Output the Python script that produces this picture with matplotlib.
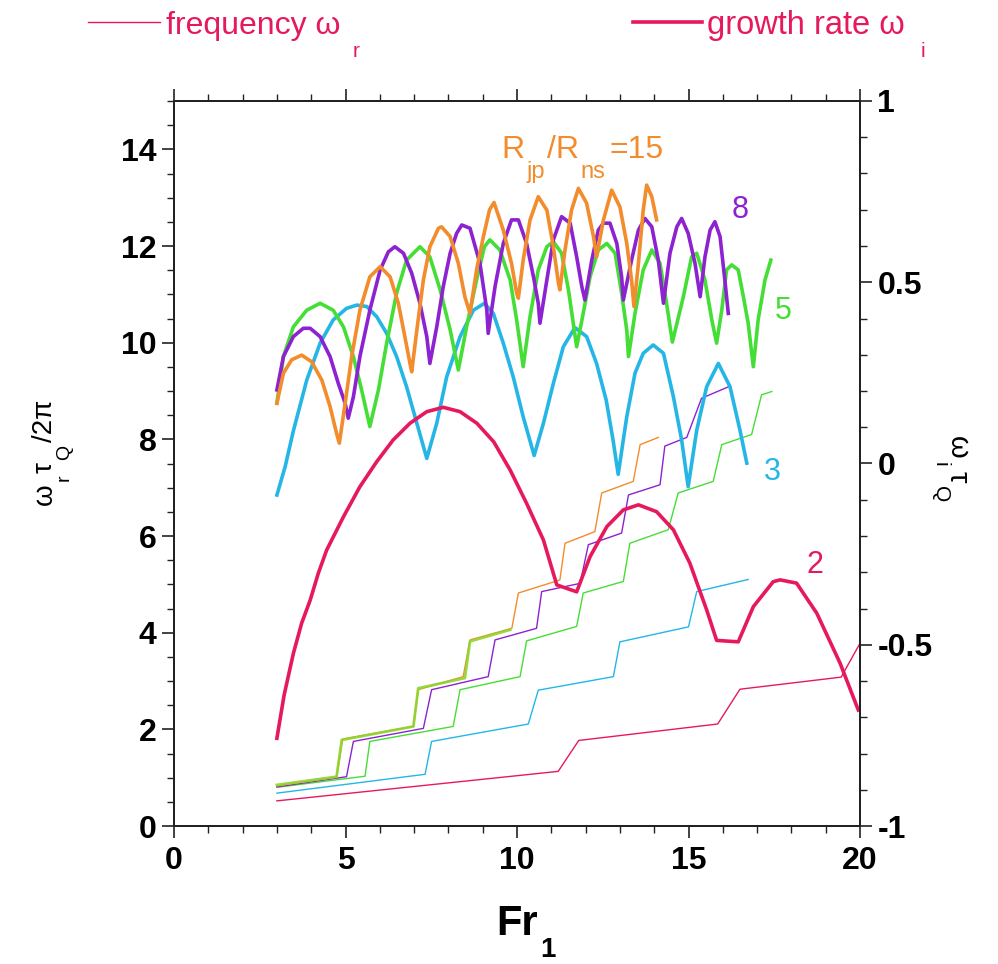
import matplotlib
matplotlib.use("Agg")
import matplotlib.pyplot as plt
from matplotlib.lines import Line2D
from matplotlib.ticker import MultipleLocator

plt.rcParams['font.family'] = ['Liberation Sans', 'DejaVu Sans']
plt.rcParams['axes.unicode_minus'] = False

# ---------------- data ----------------
# growth rate omega_i * tau_Q (right axis), one curve per R_jp/R_ns
fr_wi_2 = [3.0, 3.21, 3.48, 3.72, 3.97, 4.21, 4.45, 4.94, 5.42, 5.91, 6.39, 6.88, 7.37, 7.85,
           8.34, 8.83, 9.32, 9.80, 10.28, 10.77, 11.16, 11.74, 12.13, 12.62, 13.10, 13.54,
           14.07, 14.56, 15.04, 15.53, 15.82, 16.45, 16.89, 17.47, 17.67, 18.15, 18.74, 19.42,
           19.95]
wi_2 = [-0.758, -0.639, -0.524, -0.441, -0.377, -0.302, -0.239, -0.147, -0.064, 0.005, 0.065,
        0.111, 0.143, 0.155, 0.143, 0.111, 0.060, -0.018, -0.110, -0.211, -0.335, -0.354,
        -0.257, -0.174, -0.128, -0.114, -0.133, -0.183, -0.275, -0.404, -0.488, -0.492,
        -0.395, -0.326, -0.321, -0.330, -0.413, -0.551, -0.680]

fr_wi_3 = [3.0, 3.24, 3.48, 3.87, 4.26, 4.64, 5.03, 5.33, 5.62, 5.91, 6.20, 6.49, 6.78, 7.08,
           7.37, 7.66, 7.95, 8.34, 8.73, 9.05, 9.31, 9.60, 9.89, 10.18, 10.50, 10.77, 11.06,
           11.35, 11.69, 12.03, 12.32, 12.60, 12.80, 12.95, 13.20, 13.44, 13.68, 13.97, 14.27,
           14.56, 14.80, 14.99, 15.24, 15.53, 15.87, 16.21, 16.50, 16.70]
wi_3 = [-0.087, -0.009, 0.090, 0.230, 0.332, 0.396, 0.428, 0.437, 0.433, 0.405, 0.359, 0.295,
        0.212, 0.111, 0.014, 0.111, 0.239, 0.350, 0.423, 0.442, 0.414, 0.332, 0.239, 0.129,
        0.022, 0.111, 0.221, 0.322, 0.375, 0.350, 0.276, 0.175, 0.065, -0.030, 0.129, 0.249,
        0.304, 0.327, 0.304, 0.184, 0.065, -0.064, 0.092, 0.212, 0.276, 0.212, 0.092, 0.001]

fr_wi_5 = [3.0, 3.19, 3.48, 3.87, 4.26, 4.64, 4.94, 5.23, 5.47, 5.71, 5.96, 6.20, 6.49, 6.78,
           7.17, 7.46, 7.76, 8.05, 8.29, 8.53, 8.82, 9.05, 9.21, 9.50, 9.80, 9.99, 10.18,
           10.38, 10.62, 10.87, 11.06, 11.30, 11.50, 11.64, 11.74, 11.93, 12.13, 12.37, 12.62,
           12.86, 13.05, 13.20, 13.25, 13.44, 13.68, 13.93, 14.17, 14.36, 14.53, 14.85, 15.09,
           15.24, 15.48, 15.68, 15.82, 15.97, 16.11, 16.26, 16.45, 16.60, 16.74, 16.89, 17.03,
           17.23, 17.40]
wi_5 = [0.167, 0.295, 0.377, 0.423, 0.442, 0.423, 0.377, 0.295, 0.203, 0.102, 0.203, 0.332,
        0.470, 0.561, 0.598, 0.570, 0.479, 0.369, 0.258, 0.377, 0.506, 0.598, 0.617, 0.589,
        0.506, 0.396, 0.267, 0.405, 0.534, 0.598, 0.612, 0.580, 0.479, 0.387, 0.322, 0.414,
        0.515, 0.589, 0.607, 0.580, 0.470, 0.368, 0.295, 0.414, 0.534, 0.589, 0.552, 0.442,
        0.335, 0.460, 0.570, 0.580, 0.506, 0.396, 0.332, 0.423, 0.534, 0.548, 0.534, 0.460,
        0.387, 0.267, 0.396, 0.506, 0.561]

fr_wi_8 = [3.0, 3.19, 3.48, 3.77, 3.97, 4.26, 4.55, 4.79, 4.99, 5.08, 5.23, 5.42, 5.71, 6.01,
           6.25, 6.44, 6.69, 6.93, 7.17, 7.37, 7.46, 7.66, 7.85, 8.05, 8.24, 8.39, 8.63, 8.92,
           9.12, 9.16, 9.36, 9.60, 9.84, 10.04, 10.28, 10.48, 10.62, 10.67, 10.87, 11.06, 11.30,
           11.55, 11.74, 11.89, 11.98, 12.18, 12.37, 12.52, 12.71, 12.91, 13.05, 13.10, 13.34,
           13.54, 13.73, 13.93, 14.12, 14.27, 14.46, 14.66, 14.80, 14.99, 15.19, 15.34, 15.48,
           15.63, 15.77, 15.92, 16.06, 16.16]
wi_8 = [0.203, 0.295, 0.350, 0.373, 0.373, 0.350, 0.295, 0.221, 0.166, 0.125, 0.184, 0.295,
        0.423, 0.534, 0.584, 0.598, 0.580, 0.525, 0.442, 0.350, 0.276, 0.377, 0.488, 0.580,
        0.635, 0.658, 0.649, 0.552, 0.423, 0.359, 0.488, 0.607, 0.672, 0.672, 0.607, 0.515,
        0.442, 0.387, 0.506, 0.617, 0.681, 0.663, 0.570, 0.488, 0.451, 0.561, 0.644, 0.663,
        0.663, 0.607, 0.515, 0.451, 0.561, 0.644, 0.676, 0.653, 0.561, 0.442, 0.580, 0.653,
        0.676, 0.635, 0.552, 0.460, 0.570, 0.644, 0.667, 0.626, 0.506, 0.414]

fr_wi_15 = [3.0, 3.19, 3.43, 3.72, 4.01, 4.31, 4.55, 4.74, 4.82, 4.99, 5.18, 5.42, 5.71, 6.01,
            6.30, 6.54, 6.73, 6.88, 6.93, 7.08, 7.27, 7.46, 7.71, 7.80, 8.05, 8.29, 8.48, 8.63,
            8.82, 9.02, 9.20, 9.33, 9.60, 9.84, 9.99, 10.04, 10.18, 10.38, 10.62, 10.87, 11.06,
            11.21, 11.25, 11.40, 11.59, 11.79, 12.03, 12.23, 12.32, 12.52, 12.76, 13.00, 13.20,
            13.34, 13.41, 13.54, 13.68, 13.78, 13.93, 14.07]
wi_15 = [0.166, 0.249, 0.286, 0.299, 0.281, 0.230, 0.157, 0.083, 0.056, 0.166, 0.295, 0.423,
         0.515, 0.543, 0.515, 0.442, 0.350, 0.276, 0.253, 0.368, 0.506, 0.598, 0.649, 0.653,
         0.626, 0.552, 0.460, 0.414, 0.534, 0.626, 0.700, 0.720, 0.644, 0.552, 0.470, 0.456,
         0.561, 0.672, 0.736, 0.699, 0.598, 0.497, 0.479, 0.589, 0.699, 0.759, 0.718, 0.626,
         0.570, 0.672, 0.754, 0.708, 0.607, 0.506, 0.433, 0.552, 0.699, 0.768, 0.736, 0.672]

# frequency omega_r * tau_Q / 2pi (left axis)
fr_wr_2 = [3.0, 11.2, 11.8, 15.85, 16.5, 19.45, 20.0]
wr_2 = [0.52, 1.13, 1.77, 2.11, 2.83, 3.08, 3.78]

fr_wr_3 = [3.0, 7.32, 7.51, 10.33, 10.62, 12.81, 13.0, 15.0, 15.24, 16.74]
wr_3 = [0.68, 1.07, 1.75, 2.11, 2.81, 3.09, 3.81, 4.12, 4.85, 5.10]

fr_wr_5 = [3.0, 5.57, 5.71, 8.14, 8.34, 10.09, 10.28, 11.74, 11.93, 13.10, 13.29, 14.41,
           14.70, 15.72, 15.97, 16.84, 17.13, 17.43]
wr_5 = [0.80, 1.03, 1.75, 2.06, 2.82, 3.09, 3.83, 4.13, 4.82, 5.06, 5.85, 6.13, 6.89, 7.13,
        7.89, 8.10, 8.92, 8.99]

fr_wr_8 = [3.0, 5.03, 5.23, 7.27, 7.51, 9.16, 9.36, 10.57, 10.72, 11.84, 12.08, 13.05, 13.25,
           14.17, 14.31, 14.95, 15.38, 16.21]
wr_8 = [0.81, 1.02, 1.75, 2.02, 2.82, 3.09, 3.85, 4.09, 4.85, 5.02, 5.82, 6.06, 6.85, 7.06,
        7.86, 8.04, 8.85, 9.10]

fr_wr_15 = [3.0, 4.74, 4.92, 6.98, 7.12, 8.43, 8.63, 9.85, 10.04, 11.25, 11.40, 12.27, 12.47,
            13.39, 13.59, 14.12]
wr_15 = [0.83, 1.01, 1.80, 2.06, 2.82, 3.09, 3.85, 4.09, 4.82, 5.09, 5.85, 6.09, 6.89, 7.13,
         7.89, 8.04]

# companion branch running along the R=15 staircase at low Fr
fr_wr_b = [3.0, 4.74, 4.89, 6.98, 7.12, 8.48, 8.63, 9.80]
wr_b = [0.85, 1.02, 1.78, 2.06, 2.85, 3.06, 3.82, 4.06]

x_ticks = [0, 5, 10, 15, 20]
x_tick_labels = ['0', '5', '10', '15', '20']
yl_ticks = [0, 2, 4, 6, 8, 10, 12, 14]
yl_tick_labels = ['0', '2', '4', '6', '8', '10', '12', '14']
yr_ticks = [-1, -0.5, 0, 0.5, 1]
yr_tick_labels = ['-1', '-0.5', '0', '0.5', '1']

C2 = '#E6195C'
C3 = '#25B6E6'
C5 = '#45DE36'
C8 = '#8C22D0'
C15 = '#F28C2C'
CB = '#8ED42C'

# ---------------- figure ----------------
W, H = 998, 964
fig = plt.figure(figsize=(W / 100, H / 100), dpi=100)
ax = fig.add_axes([174 / W, 1 - 826 / H, (860 - 174) / W, (826 - 101) / H])
ax2 = ax.twinx()

thin = 1.0
thick = 2.6

ax.plot(fr_wr_2, wr_2, color=C2, lw=thin)
ax.plot(fr_wr_3, wr_3, color=C3, lw=thin)
ax.plot(fr_wr_5, wr_5, color=C5, lw=thin)
ax.plot(fr_wr_8, wr_8, color=C8, lw=thin)
ax.plot(fr_wr_15, wr_15, color=C15, lw=thin)
ax.plot(fr_wr_b, wr_b, color=CB, lw=2.0, alpha=0.9)

ax2.plot(fr_wi_3, wi_3, color=C3, lw=thick)
ax2.plot(fr_wi_5, wi_5, color=C5, lw=thick)
ax2.plot(fr_wi_8, wi_8, color=C8, lw=thick)
ax2.plot(fr_wi_15, wi_15, color=C15, lw=thick)
ax2.plot(fr_wi_2, wi_2, color=C2, lw=thick)

ax.set_xlim(0, 20)
ax.set_ylim(0, 15)
ax2.set_ylim(-1, 1)

tick_font = dict(fontsize=23, fontweight='bold')
ax.set_xticks(x_ticks)
ax.set_xticklabels(x_tick_labels, **tick_font)
ax.set_yticks(yl_ticks)
ax.set_yticklabels(yl_tick_labels, **tick_font)
ax2.set_yticks(yr_ticks)
ax2.set_yticklabels(yr_tick_labels, **tick_font)
ax.xaxis.set_minor_locator(MultipleLocator(1))
ax.yaxis.set_minor_locator(MultipleLocator(0.5))
ax2.yaxis.set_minor_locator(MultipleLocator(0.1))

for a in (ax, ax2):
    a.tick_params(which='major', direction='out', length=8.5, width=1.2, pad=4, colors='#222222')
    a.tick_params(which='minor', direction='out', length=5, width=1.0, colors='#222222')
    for sp in a.spines.values():
        sp.set_linewidth(1.4)
        sp.set_color('#222222')
ax.tick_params(which='both', top=True, labeltop=False)
ax.tick_params(axis='x', which='major', pad=6)

for lbl in ax.get_xticklabels() + ax.get_yticklabels() + ax2.get_yticklabels():
    lbl.set_color('black')

# curve labels
ax2.text(16.5, 0.70, '8', color=C8, fontsize=22, ha='center', va='center')
ax2.text(17.75, 0.42, '5', color=C5, fontsize=22, ha='center', va='center')
ax2.text(17.45, -0.023, '3', color=C3, fontsize=22, ha='center', va='center')
ax2.text(18.69, -0.280, '2', color=C2, fontsize=22, ha='center', va='center')

# ---------------- text with lowered subscripts ----------------
renderer = fig.canvas.get_renderer()


def text_runs(x_px, y_px, runs, color, rotation=0, weight='normal'):
    pos = 0.0
    for s, size, drop, gap in runs:
        if rotation == 0:
            tx, ty = x_px + pos, y_px + drop
        elif rotation == 90:
            tx, ty = x_px + drop, y_px - pos
        else:
            tx, ty = x_px - drop, y_px + pos
        t = fig.text(tx / W, 1 - ty / H, s, fontsize=size, color=color, rotation=rotation,
                     rotation_mode='anchor', ha='left', va='baseline', fontweight=weight)
        bb = t.get_window_extent(renderer)
        pos += (bb.width if rotation == 0 else bb.height) + gap


# legend
fig.add_artist(Line2D([88 / W, 160 / W], [1 - 22 / H] * 2, transform=fig.transFigure,
                      color=C2, lw=1.0))
text_runs(166, 34, [('frequency ω', 23, 0, 12), ('r', 15, 23, 0)], C2)
fig.add_artist(Line2D([633 / W, 702 / W], [1 - 22 / H] * 2, transform=fig.transFigure,
                      color=C2, lw=2.6))
text_runs(707, 34, [('growth rate ω', 23.5, 0, 16), ('i', 15, 23, 0)], C2)

# R label
text_runs(501, 158, [('R', 23, 0, 2), ('jp', 17, 20, 2), ('/R', 23, 0, 2), ('ns', 17, 20, 4),
                     ('=15', 23, 0, 0)], C15)

# axis labels
text_runs(496, 935, [('Fr', 30, 0, 3), ('1', 20, 22, 0)], 'black', weight='bold')
text_runs(52, 505, [('ω', 20, 0, 2), ('r', 14, 17, 2), ('τ', 20, 0, 2), ('Q', 14, 17, 3),
                    ('/2π', 20, 0, 0)], 'black', rotation=90)
text_runs(950, 436, [('ω', 21, 0, 3), ('i', 15, 15, 5), ('τ', 21, 0, 3), ('Q', 15, 15, 0)],
          'black', rotation=270)

fig.savefig('out.png', dpi=100, facecolor='white')
